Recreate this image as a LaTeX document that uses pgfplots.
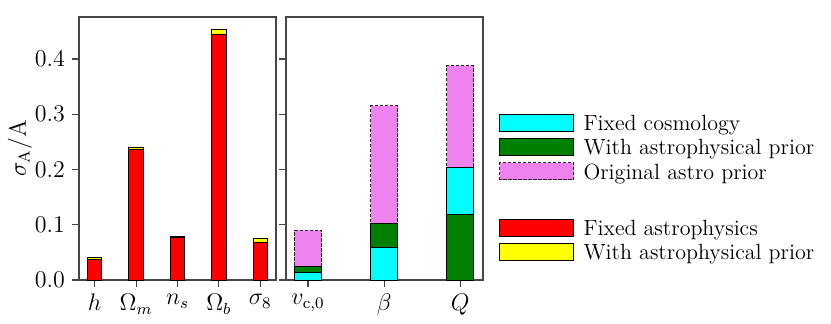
\documentclass[border=0pt]{standalone}
\usepackage{fix-cm}
\usepackage{pgfplots}
\pgfplotsset{compat=1.18}
\definecolor{mplCyan}{RGB}{0,255,255}
\definecolor{mplGreen}{RGB}{0,128,0}
\definecolor{mplViolet}{RGB}{238,130,238}
\definecolor{mplRed}{RGB}{255,0,0}
\definecolor{mplYellow}{RGB}{255,255,0}
\definecolor{spine}{RGB}{70,70,70}
\pgfplotsset{
  panel/.style={
    scale only axis, width=98.5pt, height=131.5pt,
    ymin=0, ymax=0.476,
    ytick={0,0.1,0.2,0.3,0.4},
    axis line style={spine, line width=0.6pt},
    tick style={spine, line width=0.6pt},
    major tick length=3.5pt,
    tick align=outside,
    xtick pos=left, ytick pos=left,
    tick label style={font=\fontsize{12}{14}\selectfont},
    label style={font=\fontsize{12}{14}\selectfont},
    yticklabel style={/pgf/number format/.cd, fixed, fixed zerofill, precision=1},
    legend image code/.code={\draw[##1] (0pt,-3.45pt) rectangle (37pt,5.05pt);},
    legend style={draw=none, fill=none, inner sep=0pt, outer sep=0pt,
      row sep=2.23pt, column sep=4.8pt, nodes={inner sep=0pt},
      font=\fontsize{11}{13}\selectfont},
    legend cell align=left,
  },
  bar/.style={ybar, bar width=0.35, bar shift=0pt, draw=black, line width=0.5pt, forget plot},
}
\begin{document}
\begin{tikzpicture}
% cosmological parameters
\begin{axis}[panel, at={(0pt,0pt)},
  xmin=-0.38, xmax=4.38,
  xtick={0,1,2,3,4},
  xticklabels={$h$,$\Omega_m$,$n_s$,$\Omega_b$,$\sigma_8$},
  ylabel={$\sigma_\mathrm{A}/\mathrm{A}$},
  ylabel style={at={(axis description cs:-0.30,0.5)}, anchor=center},
  legend style={at={(axis description cs:2.132,0.2338)}, anchor=north west}]
\addplot[bar, fill=mplYellow] coordinates {(0,0.041) (1,0.240) (2,0.078) (3,0.453) (4,0.076)};
\addplot[bar, fill=mplRed] coordinates {(0,0.037) (1,0.236) (2,0.077) (3,0.445) (4,0.068)};
\addlegendimage{fill=mplRed, draw=black, line width=0.5pt}
\addlegendentry{Fixed astrophysics}
\addlegendimage{fill=mplYellow, draw=black, line width=0.5pt}
\addlegendentry{With astrophysical prior}
\end{axis}
% astrophysical parameters
\begin{axis}[panel, at={(103.5pt,0pt)},
  xmin=-0.29, xmax=2.30,
  xtick={0,1,2},
  xticklabels={$v_{\mathrm{c},0}$,$\beta$,$Q$},
  yticklabels={},
  legend style={at={(axis description cs:1.0812,0.6312)}, anchor=north west}]
\addplot[bar, fill=mplViolet, draw=black!85, dash pattern=on 1.6pt off 0.9pt] coordinates {(0,0.090) (1,0.315) (2,0.388)};
\addplot[bar, fill=mplGreen] coordinates {(0,0.025) (1,0.103)};
\addplot[bar, fill=mplCyan] coordinates {(0,0.014) (1,0.059) (2,0.204)};
\addplot[bar, fill=mplGreen] coordinates {(2,0.118)};
\addlegendimage{fill=mplCyan, draw=black, line width=0.5pt}
\addlegendentry{Fixed cosmology}
\addlegendimage{fill=mplGreen, draw=black, line width=0.5pt}
\addlegendentry{With astrophysical prior}
\addlegendimage{fill=mplViolet, draw=black!85, line width=0.5pt, dash pattern=on 1.6pt off 0.9pt}
\addlegendentry{Original astro prior}
\end{axis}
\pgfresetboundingbox
\useasboundingbox (-39.5pt,-21.5pt) rectangle (376pt,140pt);
\end{tikzpicture}
\end{document}
